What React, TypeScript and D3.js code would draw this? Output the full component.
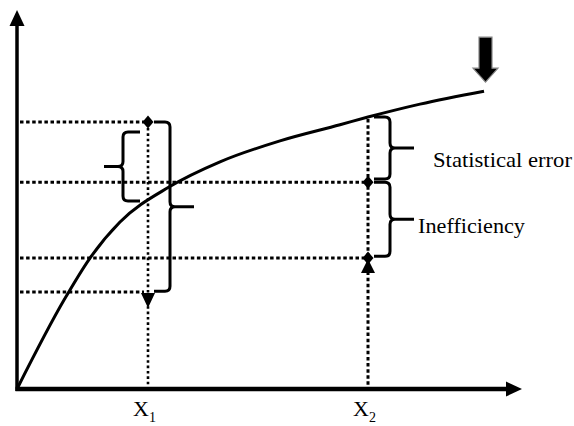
import React from "react";
import * as d3 from "d3";

// ---- data ----
const curveX = [0, 9.4, 14.6, 20.6, 30.4, 40.6, 52.6, 64.6, 70.2, 80.6, 93.4];
const curveY = [0, 25.4, 37.4, 47.7, 57.7, 64.9, 70.9, 75.5, 77.7, 81.4, 85.1];

const tickValues = [26.2, 70.2];
const tickLabels = ["X", "X"];
const tickSubs = ["1", "2"];

// horizontal guides: level and the x where each stops
const guideLevels = [76.3, 59.1, 37.4, 27.7];
const guideEnds = [26.2, 70.2, 70.2, 26.2];

// vertical guides at X1, X2: top level
const vGuideX = [26.2, 70.2];
const vGuideTop = [76.3, 77.7];

// braces: [top, bottom] in y-units, anchor x, side
const braceTop = [76.3, 73.4, 77.7, 59.1];
const braceBottom = [27.9, 53.7, 60.0, 37.9];
const braceAnchor = [26.2, 26.2, 70.2, 70.2];
const braceSide = ["right", "left", "right", "right"];

const diamondX = [26.2, 70.2, 70.2];
const diamondY = [76.3, 59.1, 37.4];

const labels = ["Statistical error", "Inefficiency"];

const FONT = "'Liberation Serif', 'Times New Roman', serif";

export default function App() {
  const W = 574, H = 426;
  const x = d3.scaleLinear().domain([0, 100]).range([17, 517]);
  const y = d3.scaleLinear().domain([0, 100]).range([389, 39]);

  const line = d3
    .line<number>()
    .x((_, i) => x(curveX[i]))
    .y((d) => y(d))
    .curve(d3.curveMonotoneX);

  const ox = x(0), oy = y(0);

  const bracePath = (xa: number, y0: number, y1: number, side: string) => {
    const r = 5;
    const ym = (y0 + y1) / 2;
    if (side === "right") {
      const bx = xa + 22;
      return `M${xa + 6},${y0} L${bx - r},${y0} Q${bx},${y0} ${bx},${y0 + r} L${bx},${ym - r} Q${bx},${ym} ${bx + r},${ym} L${bx + 24},${ym} M${bx + r},${ym} Q${bx},${ym} ${bx},${ym + r} L${bx},${y1 - r} Q${bx},${y1} ${bx - r},${y1} L${xa + 6},${y1}`;
    } else {
      const bx = xa - 25;
      return `M${xa - 8},${y0} L${bx + r},${y0} Q${bx},${y0} ${bx},${y0 + r} L${bx},${ym - r} Q${bx},${ym} ${bx - r},${ym} L${bx - 19},${ym} M${bx - r},${ym} Q${bx},${ym} ${bx},${ym + r} L${bx},${y1 - r} Q${bx},${y1} ${bx + r},${y1} L${xa - 8},${y1}`;
    }
  };

  const endX = x(curveX[curveX.length - 1]);
  const endY = y(curveY[curveY.length - 1]);

  return (
    <svg
      width={W}
      height={H}
      style={{ position: "absolute", left: 0, top: 0, background: "#fff" }}
    >
      {/* horizontal dotted guides */}
      {guideLevels.map((lv, i) => (
        <line
          key={"h" + i}
          x1={ox + 3}
          x2={x(guideEnds[i]) - 4}
          y1={y(lv)}
          y2={y(lv)}
          stroke="#000"
          strokeWidth={3}
          strokeDasharray="3.5 2.6"
        />
      ))}
      {/* vertical dotted guides */}
      <line
        x1={x(vGuideX[0])}
        x2={x(vGuideX[0])}
        y1={y(vGuideTop[0]) + 6}
        y2={oy}
        stroke="#000"
        strokeWidth={2.6}
        strokeDasharray="2.6 2.8"
      />
      <line
        x1={x(vGuideX[1])}
        x2={x(vGuideX[1])}
        y1={y(vGuideTop[1]) + 2}
        y2={oy}
        stroke="#000"
        strokeWidth={3}
        strokeDasharray="3.5 2.6"
      />

      {/* curve */}
      <path d={line(curveY) || ""} fill="none" stroke="#000" strokeWidth={3} />

      {/* braces */}
      {braceTop.map((t, i) => (
        <path
          key={"b" + i}
          d={bracePath(x(braceAnchor[i]), y(t), y(braceBottom[i]), braceSide[i])}
          fill="none"
          stroke="#000"
          strokeWidth={3}
        />
      ))}

      {/* diamonds */}
      {diamondX.map((dx, i) => {
        const cx = x(dx), cy = y(diamondY[i]);
        return (
          <path
            key={"d" + i}
            d={`M${cx},${cy - 6.5} L${cx + 5.5},${cy} L${cx},${cy + 6.5} L${cx - 5.5},${cy} Z`}
            fill="#000"
          />
        );
      })}

      {/* down triangle at X1 lower level */}
      {(() => {
        const cx = x(tickValues[0]), cy = y(guideLevels[3]) + 1;
        return <path d={`M${cx - 7},${cy} L${cx + 7},${cy} L${cx},${cy + 15} Z`} fill="#000" />;
      })()}
      {/* up triangle at X2 */}
      {(() => {
        const cx = x(tickValues[1]), cy = y(guideLevels[2]) + 15;
        return <path d={`M${cx - 7},${cy} L${cx + 7},${cy} L${cx},${cy - 14} Z`} fill="#000" />;
      })()}

      {/* axes */}
      <line x1={ox} x2={ox} y1={oy + 2} y2={24} stroke="#000" strokeWidth={3.5} />
      <path d={`M${ox},10 L${ox + 7.5},26 L${ox - 7.5},26 Z`} fill="#000" />
      <line x1={ox - 1.5} x2={508} y1={oy} y2={oy} stroke="#000" strokeWidth={4.5} />
      <path d={`M522,${oy} L506,${oy - 7.5} L506,${oy + 7.5} Z`} fill="#000" />

      <g style={{ fontFamily: FONT }} fill="#000">
        {/* tick labels */}
        {tickValues.map((v, i) => (
          <text key={"t" + i} x={x(v) - 15} y={416} fontSize={22}>
            {tickLabels[i]}
            <tspan fontSize={14} dy={6}>
              {tickSubs[i]}
            </tspan>
          </text>
        ))}

        {/* labels */}
        <text x={433} y={167} fontSize={22} textLength={139} lengthAdjust="spacingAndGlyphs">
          {labels[0]}
        </text>
        <text x={418} y={233} fontSize={22} textLength={107} lengthAdjust="spacingAndGlyphs">
          {labels[1]}
        </text>
      </g>

      {/* big down arrow */}
      <path
        d={`M${endX - 5},37 L${endX + 8},37 L${endX + 8},68 L${endX + 14},68 L${endX + 1.5},82 L${endX - 11},68 L${endX - 5},68 Z`}
        transform={`translate(0,${endY - 91})`}
        fill="#000"
        stroke="#888"
        strokeWidth={1.2}
      />
    </svg>
  );
}
